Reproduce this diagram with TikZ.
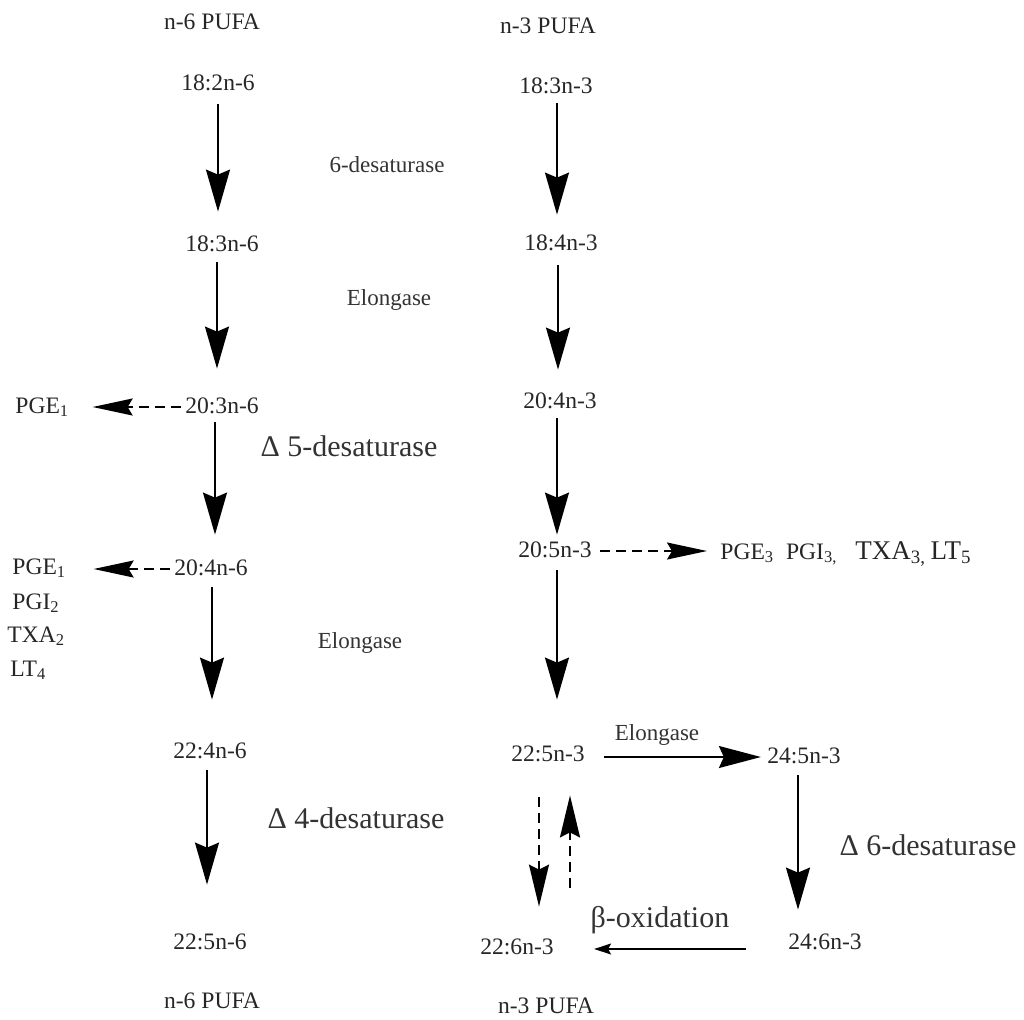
\documentclass[tikz,border=0pt]{standalone}
\usepackage{fontspec}
\setmainfont{Liberation Serif}
\usetikzlibrary{arrows.meta}
\begin{document}
\begin{tikzpicture}[x=0.5pt,y=-0.5pt,
 lbl/.style={inner sep=0pt, text height=8pt, text depth=2pt, font=\fontsize{11.8}{13}\selectfont, text=black!85},
 enz/.style={inner sep=0pt, font=\fontsize{11.5}{13}\selectfont, text=black!80},
 bigl/.style={inner sep=0pt, font=\fontsize{15}{17}\selectfont, text=black!80},
 arr/.style={line width=1pt, -{Stealth[length=21pt,width=12pt,inset=2.5pt]}},
 harr/.style={line width=0.8pt, -{Stealth[length=21pt,width=11pt,inset=2.5pt]}},
 tarr/.style={line width=0.6pt, -{Stealth[length=8.5pt,width=5.5pt,inset=1.5pt]}},
 darr/.style={line width=1pt, dash pattern=on 5pt off 3pt, -{Stealth[length=21pt,width=10pt,inset=2.5pt]}},
 darrh/.style={line width=0.9pt, dash pattern=on 5pt off 3pt, -{Stealth[length=20pt,width=8.5pt,inset=2.5pt]}}
]
\useasboundingbox (0,0) rectangle (1024,1019);
% n-6 column
\node[lbl] (t6) at (212,23) {n-6 PUFA};
\node[lbl] (a1) at (218,84) {18:2n-6};
\node[lbl] (a2) at (222,245) {18:3n-6};
\node[lbl] (a3) at (222,407) {20:3n-6};
\node[lbl] (a4) at (211,569) {20:4n-6};
\node[lbl] (a5) at (210,752) {22:4n-6};
\node[lbl] (a6) at (210,943) {22:5n-6};
\node[lbl] (b6) at (212,1002) {n-6 PUFA};
% n-3 column
\node[lbl] (t3) at (548,27) {n-3 PUFA};
\node[lbl] (c1) at (556,87) {18:3n-3};
\node[lbl] (c2) at (561,244) {18:4n-3};
\node[lbl] (c3) at (560,402) {20:4n-3};
\node[lbl] (c4) at (555,551) {20:5n-3};
\node[lbl] (c5) at (548,755) {22:5n-3};
\node[lbl] (c6) at (517,948) {22:6n-3};
\node[lbl] (b3) at (546,1007) {n-3 PUFA};
\node[lbl] (d1) at (804,757) {24:5n-3};
\node[lbl] (d2) at (825,943) {24:6n-3};
% eicosanoids
\node[lbl,anchor=west] (p1) at (15,407) {PGE\textsubscript{1}};
\node[lbl,anchor=west] (p2) at (12,568) {PGE\textsubscript{1}};
\node[lbl,anchor=west] (p3) at (12,603) {PGI\textsubscript{2}};
\node[lbl,anchor=west] (p4) at (7,636) {TXA\textsubscript{2}};
\node[lbl,anchor=west] (p5) at (10,670) {LT\textsubscript{4}};
\node[lbl,anchor=west] (q1) at (720,553) {PGE\textsubscript{3}\ \ PGI\textsubscript{3,}\hspace{9pt}{\fontsize{13.5}{15}\selectfont TXA\textsubscript{3,}\,LT\textsubscript{5}}};
% enzymes
\node[enz] (e1) at (387,165) {6-desaturase};
\node[enz] (e2) at (389,300) {Elongase};
\node[bigl] (e3) at (349,446) {Δ 5-desaturase};
\node[enz] (e4) at (360,643) {Elongase};
\node[bigl] (e5) at (356,818) {Δ 4-desaturase};
\node[enz] (e6) at (657,735) {Elongase};
\node[bigl] (e7) at (928,845) {Δ 6-desaturase};
\node[bigl] (e8) at (660,920) {β-oxidation};
% n-6 arrows
\draw[arr,shorten <=5pt,shorten >=11.5pt] (a1.south) -- (a1.south |- a2.north);
\draw[arr,shorten <=3.5pt,shorten >=14pt] ([xshift=-2.5pt]a2.south) -- ([xshift=-2.5pt]a2.south |- a3.north);
\draw[arr,shorten <=2.5pt,shorten >=12pt] ([xshift=-3.5pt]a3.south) -- ([xshift=-3.5pt]a3.south |- a4.north);
\draw[arr,shorten <=4pt,shorten >=21pt] ([xshift=0.5pt]a4.south) -- ([xshift=0.5pt]a4.south |- a5.north);
\draw[arr,shorten <=4pt,shorten >=24pt] ([xshift=-1.5pt]a5.south) -- ([xshift=-1.5pt]a5.south |- a6.north);
% n-3 arrows
\draw[arr,shorten <=3pt,shorten >=9.5pt] ([xshift=0.5pt]c1.south) -- ([xshift=0.5pt]c1.south |- c2.north);
\draw[arr,shorten <=5.5pt,shorten >=11pt] ([xshift=-1.5pt]c2.south) -- ([xshift=-1.5pt]c2.south |- c3.north);
\draw[arr,shorten <=3pt,shorten >=3pt] ([xshift=-1.5pt]c3.south) -- ([xshift=-1.5pt]c3.south |- c4.north);
\draw[arr,shorten <=4.5pt,shorten >=22.5pt] ([xshift=1pt]c4.south) -- ([xshift=1pt]c4.south |- c5.north);
\draw[harr,shorten <=9.5pt,shorten >=3pt] ([yshift=-1pt]c5.east) -- ([yshift=-1pt]c5.east -| d1.west);
\draw[arr,shorten <=4pt,shorten >=11.5pt] ([xshift=-3pt]d1.south) -- ([xshift=-3pt]d1.south |- d2.north);
\draw[tarr,shorten <=21pt,shorten >=20pt] ([yshift=-3pt]d2.west) -- ([yshift=-3pt]d2.west -| c6.east);
\draw[darr,shorten <=16pt,shorten >=15.5pt] ([xshift=-4.5pt]c5.south) -- ([xshift=-4.5pt]c5.south |- c6.north);
\draw[darr,shorten <=25pt,shorten >=15pt] ([xshift=11pt]c5.south |- c6.north) -- ([xshift=11pt]c5.south);
% dashed side arrows
\draw[darrh,shorten <=2pt,shorten >=11.5pt] (a3.west) -- (a3.west -| p1.east);
\draw[darrh,shorten <=2pt,shorten >=13.5pt] (a4.west) -- (a4.west -| p2.east);
\draw[darrh,shorten <=4pt,shorten >=6.5pt] (c4.east) -- (c4.east -| q1.west);
\end{tikzpicture}
\end{document}
